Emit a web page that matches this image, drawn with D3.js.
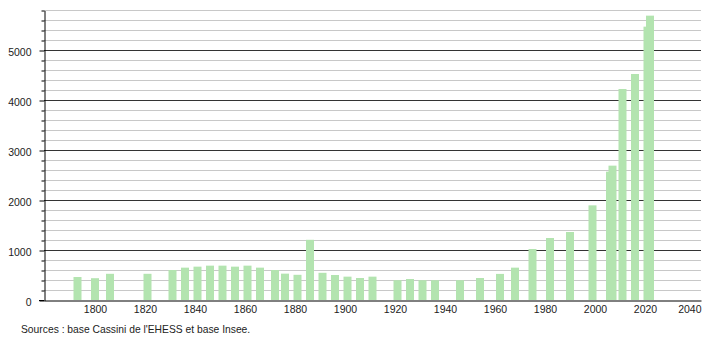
<!DOCTYPE html>
<html><head><meta charset="utf-8">
<script src="https://cdn.jsdelivr.net/npm/d3@7"></script>
<style>
html,body{margin:0;padding:0;background:#fff;}
svg{display:block;font-family:"Liberation Sans",Arial,Helvetica,sans-serif;}
</style>
</head><body>
<svg id="c" width="710" height="340"></svg>
<script>
const years = [1793,1800,1806,1821,1831,1836,1841,1846,1851,1856,1861,1866,1872,1876,1881,1886,1891,1896,1901,1906,1911,1921,1926,1931,1936,1946,1954,1962,1968,1975,1982,1990,1999,2006,2007,2011,2016,2021,2022];
const population = [460,436,524,524,600,647,667,687,687,667,687,647,600,527,504,1204,544,500,467,440,467,396,420,396,396,396,440,522,647,1020,1240,1360,1893,2567,2687,4220,4520,5467,5687];
const xTickValues = [1800,1820,1840,1860,1880,1900,1920,1940,1960,1980,2000,2020,2040];
const yTickValues = [0,1000,2000,3000,4000,5000];
const yMinorValues = [200,400,600,800,1200,1400,1600,1800,2200,2400,2600,2800,3200,3400,3600,3800,4200,4400,4600,4800,5200,5400,5600,5800];
const sourceText = "Sources : base Cassini de l'EHESS et base Insee.";

(function () {
const data = years.map((yr, i) => ({year: yr, value: population[i]}));

const svg = d3.select("#c");
const mLeft = 44, mRight = 701, mBottom = 300, mTop = 10;
const x = d3.scaleLinear().domain([1779.6, 2042.4]).range([mLeft, mRight]);
const y = d3.scaleLinear().domain([0, 5800]).range([mBottom, mTop]);
const barW = 8;

// light gridlines
svg.append("g").selectAll("line").data(yMinorValues).join("line")
  .attr("x1", mLeft).attr("x2", mRight)
  .attr("y1", d => y(d) + 0.5).attr("y2", d => y(d) + 0.5)
  .attr("stroke", "#c8c8c8").attr("stroke-width", 1);
// major gridlines
svg.append("g").selectAll("line").data(yTickValues.filter(d => d > 0)).join("line")
  .attr("x1", mLeft).attr("x2", mRight)
  .attr("y1", d => y(d) + 0.5).attr("y2", d => y(d) + 0.5)
  .attr("stroke", "#333").attr("stroke-width", 1);

// bars
svg.append("g").selectAll("rect").data(data).join("rect")
  .attr("x", d => x(d.year) - barW / 2)
  .attr("width", barW)
  .attr("y", d => y(d.value))
  .attr("height", d => y(0) - y(d.value))
  .attr("fill", "#b3e4b0");

// y axis minor ticks
const yMinorAxis = d3.axisLeft(y).tickValues(yMinorValues).tickSize(3).tickSizeOuter(0).tickFormat("");
const gmin = svg.append("g").attr("transform", `translate(${mLeft + 0.5},0.5)`).call(yMinorAxis);
gmin.select(".domain").remove();
gmin.selectAll("line").attr("stroke", "#000");

// y axis major
const yAxis = d3.axisLeft(y).tickValues(yTickValues).tickSize(5).tickSizeOuter(0).tickPadding(8).tickFormat(d3.format("d"));
const gy = svg.append("g").attr("transform", `translate(${mLeft + 0.5},0.5)`).call(yAxis);
gy.select(".domain").attr("stroke", "#000");
gy.selectAll("line").attr("stroke", "#000");
gy.selectAll("text").attr("font-size", "10.5px").attr("fill", "#222").attr("dy", "0.5em")
  .attr("font-family", "Liberation Sans, Arial, sans-serif");

// x axis
const xAxis = d3.axisBottom(x).tickValues(xTickValues).tickSize(0).tickSizeOuter(0).tickPadding(5).tickFormat(d3.format("d"));
const gx = svg.append("g").attr("transform", `translate(0,${mBottom + 0.5})`).call(xAxis);
gx.select(".domain").attr("stroke", "#000");
gx.selectAll("text").attr("font-size", "10.5px").attr("fill", "#222")
  .attr("font-family", "Liberation Sans, Arial, sans-serif");
const lastTick = xTickValues[xTickValues.length - 1];
gx.selectAll(".tick").filter(d => d === lastTick)
  .select("text").attr("text-anchor", "end").attr("x", mRight - x(lastTick));
svg.append("line").attr("x1", mLeft - 5).attr("x2", mLeft).attr("y1", mBottom + 0.5).attr("y2", mBottom + 0.5).attr("stroke", "#000");

// source
svg.append("text").attr("x", 21).attr("y", 333)
  .attr("font-size", "10.3px").attr("fill", "#222").text(sourceText);
})();
</script>
</body></html>
